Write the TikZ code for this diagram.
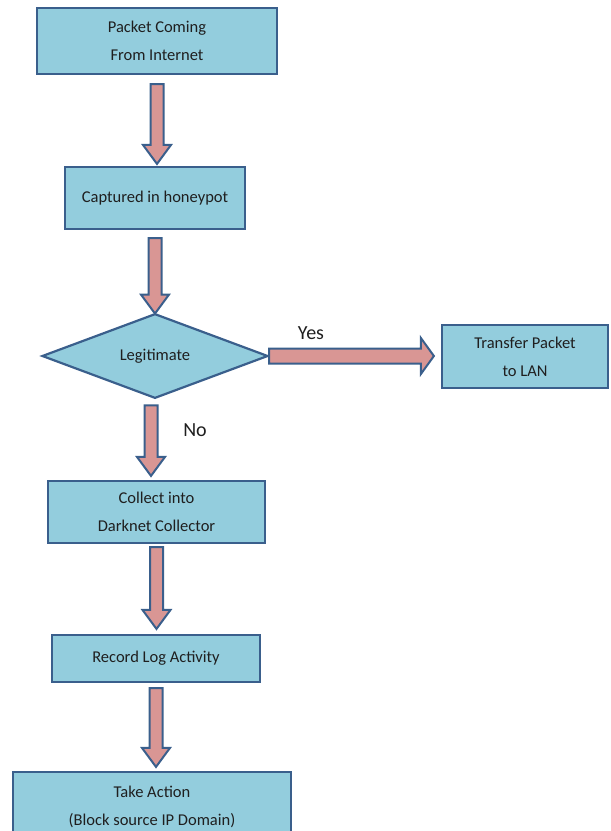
\documentclass[tikz,border=0pt]{standalone}
\usepackage{fontspec}
\setmainfont{Carlito}
\usetikzlibrary{shapes.geometric,calc}
\definecolor{boxfill}{HTML}{93CDDD}
\definecolor{boxline}{HTML}{3A5F8C}
\definecolor{arrowfill}{HTML}{D99694}
% block arrows: #1 start of the shaft, #2 the tip
\newcommand{\vflow}[2]{%
  \draw [flowarrow] let \p1 = (#1), \p2 = (#2) in
        (\x1-6.5pt,\y1) -- (\x1-6.5pt,\y2+19pt) -- (\x1-14pt,\y2+19pt) -- (\x1,\y2)
        -- (\x1+14pt,\y2+19pt) -- (\x1+6.5pt,\y2+19pt) -- (\x1+6.5pt,\y1) -- cycle;}
\newcommand{\hflow}[2]{%
  \draw [flowarrow] let \p1 = (#1), \p2 = (#2) in
        (\x1,\y1+7.5pt) -- (\x2-13pt,\y1+7.5pt) -- (\x2-13pt,\y1+18pt) -- (\x2,\y1)
        -- (\x2-13pt,\y1-18pt) -- (\x2-13pt,\y1-7.5pt) -- (\x1,\y1-7.5pt) -- cycle;}

\begin{document}
\begin{tikzpicture}[
             x                = 1pt,
             y                = -1pt,
             box/.style       = {draw = boxline, fill = boxfill, line width = 2.2pt,
                                 inner sep = 0pt, align = center, text = black!88,
                                 font = \fontsize{16.5}{28}\selectfont},
             decision/.style  = {box, diamond},
             flowarrow/.style = {draw = boxline, fill = arrowfill, line width = 2pt},
             answer/.style    = {font = \fontsize{20}{24}\selectfont, text = black!88}]
             \useasboundingbox (0,0) rectangle (611,831);
             \clip (0,0) rectangle (611,831);
             \node [box, minimum width = 240pt, minimum height = 66pt] (packet)
                   at (157,41) {Packet Coming\\From Internet};
             \node [box, minimum width = 180pt, minimum height = 62pt] (honeypot)
                   at (155,198) {Captured in honeypot};
             \node [decision, minimum width = 226pt, minimum height = 82pt] (legit)
                   at (155,356) {Legitimate};
             \node [box, minimum width = 166pt, minimum height = 63pt] (transfer)
                   at (525,356.5) {Transfer Packet\\to LAN};
             \node [box, minimum width = 217pt, minimum height = 62pt] (collect)
                   at (156.5,512) {Collect into\\Darknet Collector};
             \node [box, minimum width = 208pt, minimum height = 47pt] (record)
                   at (156,658.5) {Record Log Activity};
             \node [box, minimum width = 278pt, minimum height = 70pt] (action)
                   at (152,807) {Take Action\\(Block source IP Domain)};
             \node [answer] (yeslabel) at (311,333) {Yes};
             \node [answer] (nolabel)  at (195,430) {No};
             \vflow{[yshift=-9pt]packet.south}{[yshift=2pt]honeypot.north}
             \vflow{[yshift=-8pt]honeypot.south}{[yshift=-1pt]legit.north}
             \vflow{[yshift=-6pt,xshift=-4pt]legit.south}{[yshift=4pt]collect.north}
             \vflow{[yshift=-3pt]collect.south}{[yshift=5pt]record.north}
             \vflow{[yshift=-5pt]record.south}{[yshift=4pt]action.north}
             \hflow{legit.east}{[xshift=-7pt]transfer.west}
\end{tikzpicture}
\end{document}
